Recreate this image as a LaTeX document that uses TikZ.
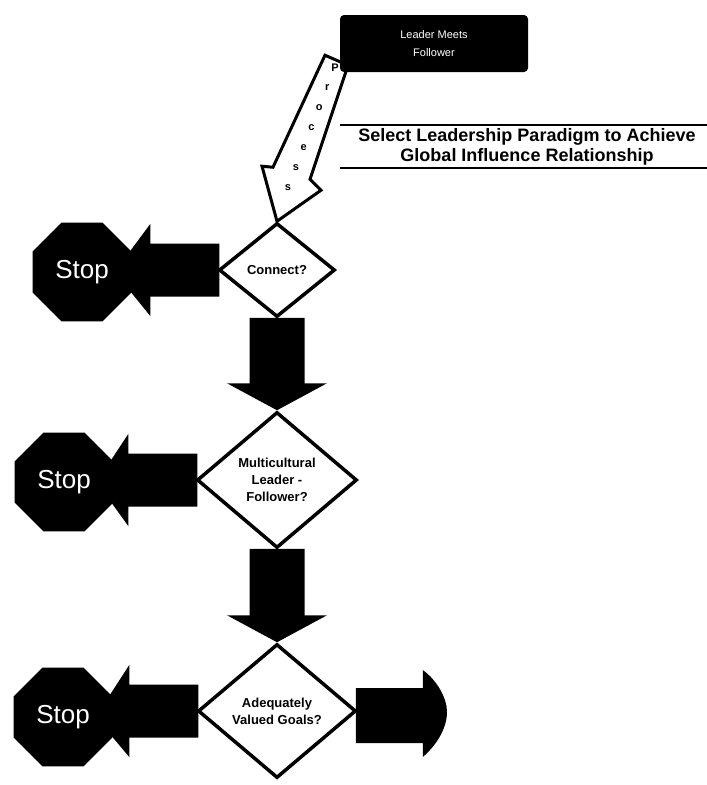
\documentclass[tikz,border=0pt]{standalone}
\usepackage{fontspec}
\setmainfont{Liberation Sans}
\usetikzlibrary{shapes.geometric,calc}
\pgfdeclarelayer{bg}
\pgfsetlayers{bg,main}
\begin{document}
\begin{tikzpicture}[x=1pt,y=-1pt,
  dia/.style={diamond, draw=black, line width=3.5pt, fill=white, inner sep=0pt},
  dtext/.style={font=\bfseries\fontsize{13}{17}\selectfont, align=center, inner sep=0pt},
  stopbox/.style={regular polygon, regular polygon sides=8, minimum size=107pt, fill=black, inner sep=0pt, text=white, font=\fontsize{26}{30}\selectfont},
  proc/.style={font=\bfseries\fontsize{11}{11}\selectfont, inner sep=0pt},
  rule/.style={line width=2pt},
]
\useasboundingbox (0,0) rectangle (707,785);
% decisions
\node[dia, minimum width=116pt, minimum height=94pt] (d1) at (277,270) {};
\node[dtext] (t1) at (d1.center) {Connect?};
\node[dia, minimum width=160pt, minimum height=136pt] (d2) at (277,480) {};
\node[dtext] (t2) at (d2.center) {Multicultural\\Leader -\\Follower?};
\node[dia, minimum width=158pt, minimum height=134pt] (d3) at (277,711) {};
\node[dtext] (t3) at (d3.center) {Adequately\\Valued Goals?};
% stops
\node[stopbox] (s1) at (82,272) {Stop};
\node[stopbox] (s2) at (64,482) {Stop};
\node[stopbox] (s3) at (63,717) {Stop};
% top box
\node[fill=black, rounded corners=4pt, minimum width=188pt, minimum height=57pt, text=white, align=center, font=\fontsize{11}{18}\selectfont] (top) at (434,43.5) {Leader Meets\\Follower};
% header
\node[font=\bfseries\fontsize{18}{20}\selectfont, align=center, inner sep=0pt] (hdr) at (527,147) {Select Leadership Paradigm to Achieve\\Global Influence Relationship};
\coordinate (r1a) at (340,125); \coordinate (r1b) at (707,125);
\coordinate (r2a) at (340,168); \coordinate (r2b) at (707,168);
\draw[rule] (r1a) -- (r1b);
\draw[rule] (r2a) -- (r2b);
% process letters
\foreach \l [count=\i from 0] in {P,r,o,c,e,s,s}
  \node[proc] (p\i) at ({335-7.83*\i},{68+20*\i}) {\l};
\coordinate (goal) at (447,712);
\begin{pgfonlayer}{bg}
  % hollow process arrow
  \draw[line width=3pt, fill=white, line join=miter]
    ($(d1.north)+(48,-166)$) -- ($(d1.north)+(71,-156)$) -- ($(d1.north)+(33,-42)$)
    -- ($(d1.north)+(44,-31)$) -- (d1.north) -- ($(d1.north)+(-15,-55)$)
    -- ($(d1.north)+(-4,-54)$) -- cycle;
  % left arrows to stops
  \foreach \d/\s in {d1/s1,d2/s2,d3/s3}
    \fill ($(\d.west)+(2,-26.5)$) -- ($(\d.west)+(-67,-26.5)$) -- ($(\d.west)+(-67,-46)$)
      -- ($(\s.east)+(-17,0)$) -- ($(\d.west)+(-67,46)$) -- ($(\d.west)+(-67,26.5)$)
      -- ($(\d.west)+(2,26.5)$) -- cycle;
  % down arrows
  \foreach \a/\b in {d1/d2,d2/d3}
    \fill ($(\a.south)+(-27.5,-1)$) -- ($(\a.south)+(27.5,-1)$) -- ($(\b.north)+(27.5,-27)$)
      -- ($(\b.north)+(50,-27)$) -- (\b.north) -- ($(\b.north)+(-50,-27)$)
      -- ($(\b.north)+(-27.5,-27)$) -- cycle;
  % right arrow
  \fill ($(d3.east)+(-2,-23)$) -- ($(d3.east)+(65,-23)$) -- ($(d3.east)+(65,-41)$)
    .. controls ($(d3.east)+(79,-31)$) and ($(goal)+(0,-14)$) .. (goal)
    .. controls ($(goal)+(0,16)$) and ($(d3.east)+(79,34)$) .. ($(d3.east)+(65,46)$)
    -- ($(d3.east)+(65,32)$) -- ($(d3.east)+(-2,32)$) -- cycle;
\end{pgfonlayer}
\end{tikzpicture}
\end{document}
